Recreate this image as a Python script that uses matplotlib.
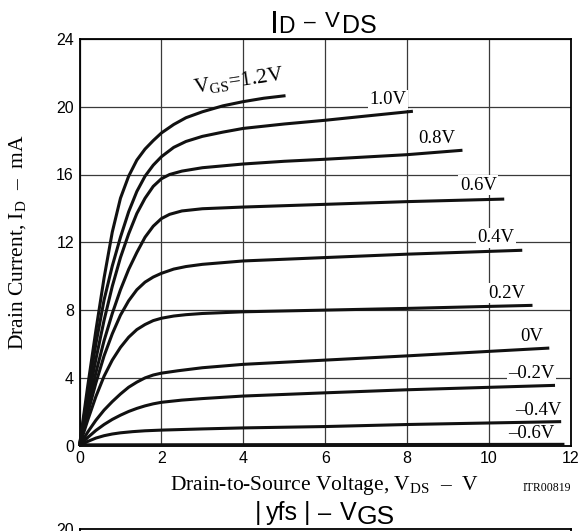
import matplotlib
matplotlib.use("Agg")
import matplotlib.pyplot as plt

plt.rcParams['font.family'] = ['Liberation Sans', 'DejaVu Sans']
plt.rcParams['mathtext.fontset'] = 'custom'
plt.rcParams['mathtext.rm'] = 'Liberation Serif'
plt.rcParams['mathtext.it'] = 'Liberation Serif:italic'
plt.rcParams['mathtext.sf'] = 'Liberation Sans'

# ID - VDS curves, one pair of lists per gate voltage
vds_p12 = [0, 0.2, 0.4, 0.6, 0.8, 1.0, 1.2, 1.4, 1.6, 1.8, 2.0, 2.3, 2.6, 3.0, 3.5, 4.0, 4.5, 5.03]
id_p12 = [0, 3.5, 6.8, 9.9, 12.6, 14.6, 15.9, 16.85, 17.5, 18.0, 18.45, 18.95, 19.35, 19.7, 20.05, 20.3, 20.5, 20.65]

vds_p10 = [0, 0.2, 0.4, 0.6, 0.8, 1.0, 1.2, 1.4, 1.6, 1.8, 2.0, 2.3, 2.6, 3.0, 3.5, 4.0, 5.0, 6.0, 7.0, 8.14]
id_p10 = [0, 3.1, 6.0, 8.6, 10.6, 12.3, 13.8, 15.0, 15.9, 16.55, 17.05, 17.6, 17.95, 18.25, 18.5, 18.72, 18.98, 19.2, 19.45, 19.73]

vds_p08 = [0, 0.2, 0.4, 0.6, 0.8, 1.0, 1.2, 1.4, 1.6, 1.8, 2.0, 2.2, 2.5, 3.0, 4.0, 5.0, 6.0, 8.0, 9.35]
id_p08 = [0, 2.6, 5.1, 7.4, 9.4, 11.1, 12.5, 13.7, 14.6, 15.3, 15.75, 16.0, 16.2, 16.4, 16.62, 16.78, 16.9, 17.17, 17.43]

vds_p06 = [0, 0.2, 0.4, 0.6, 0.8, 1.0, 1.2, 1.4, 1.6, 1.8, 2.0, 2.2, 2.5, 3.0, 4.0, 5.0, 6.0, 8.0, 10.37]
id_p06 = [0, 2.2, 4.3, 6.2, 7.8, 9.2, 10.4, 11.4, 12.3, 12.95, 13.4, 13.65, 13.85, 13.98, 14.08, 14.16, 14.24, 14.4, 14.55]

vds_p04 = [0, 0.2, 0.4, 0.6, 0.8, 1.0, 1.2, 1.4, 1.6, 1.8, 2.0, 2.3, 2.6, 3.0, 4.0, 5.0, 6.0, 8.0, 10.81]
id_p04 = [0, 1.9, 3.7, 5.3, 6.6, 7.7, 8.55, 9.2, 9.65, 9.95, 10.17, 10.42, 10.57, 10.7, 10.9, 11.0, 11.1, 11.3, 11.53]

vds_p02 = [0, 0.2, 0.4, 0.6, 0.8, 1.0, 1.2, 1.4, 1.6, 1.8, 2.0, 2.3, 2.6, 3.0, 4.0, 6.0, 8.0, 11.06]
id_p02 = [0, 1.5, 2.9, 4.1, 5.05, 5.8, 6.4, 6.85, 7.15, 7.38, 7.52, 7.65, 7.73, 7.8, 7.9, 8.0, 8.1, 8.28]

vds_00 = [0, 0.2, 0.4, 0.6, 0.8, 1.0, 1.2, 1.4, 1.6, 1.8, 2.0, 2.4, 3.0, 4.0, 6.0, 8.0, 11.47]
id_00 = [0, 0.8, 1.5, 2.1, 2.6, 3.05, 3.45, 3.75, 4.0, 4.17, 4.28, 4.42, 4.6, 4.8, 5.05, 5.3, 5.76]

vds_m02 = [0, 0.2, 0.4, 0.6, 0.8, 1.0, 1.2, 1.4, 1.6, 1.8, 2.0, 2.5, 3.0, 4.0, 6.0, 8.0, 11.61]
id_m02 = [0, 0.48, 0.9, 1.25, 1.55, 1.8, 2.02, 2.2, 2.35, 2.47, 2.56, 2.69, 2.78, 2.93, 3.12, 3.3, 3.56]

vds_m04 = [0, 0.2, 0.4, 0.6, 0.8, 1.0, 1.3, 1.6, 2.0, 3.0, 4.0, 6.0, 8.0, 11.76]
id_m04 = [0, 0.25, 0.45, 0.59, 0.69, 0.76, 0.83, 0.88, 0.92, 0.99, 1.05, 1.13, 1.25, 1.42]

vds_m06 = [0, 11.84]
id_m06 = [0.05, 0.08]

curve_labels = ["1.0V", "0.8V", "0.6V", "0.4V", "0.2V", "0V",
                "\u20130.2V", "\u20130.4V", "\u20130.6V"]

x_ticks = [0, 2, 4, 6, 8, 10, 12]
y_ticks = [0, 4, 8, 12, 16, 20, 24]

W, H = 583, 531
fig = plt.figure(figsize=(W / 100, H / 100), dpi=100)


def ptext(px, py, s, size, **kw):
    # place text by pixel position (top-left origin)
    kw.setdefault('va', 'baseline')
    kw.setdefault('ha', 'left')
    fig.text(px / W, 1 - py / H, s, fontsize=size, **kw)


ax = fig.add_axes([79.5 / W, 1 - 445.7 / H, 491.5 / W, 406.8 / H])
ax.set_xlim(0, 12)
ax.set_ylim(0, 24)
ax.set_xticks(x_ticks)
ax.set_yticks(y_ticks)
ax.tick_params(length=0, labelsize=11.5, pad=4)
ax.grid(True, color='#3a3a3a', lw=0.9)
ax.set_axisbelow(True)
for sp in ax.spines.values():
    sp.set_linewidth(1.3)

curves = [(vds_p12, id_p12), (vds_p10, id_p10), (vds_p08, id_p08),
          (vds_p06, id_p06), (vds_p04, id_p04), (vds_p02, id_p02),
          (vds_00, id_00), (vds_m02, id_m02), (vds_m04, id_m04),
          (vds_m06, id_m06)]
for vx, iy in curves:
    ax.plot(vx, iy, color='#111111', lw=2.2, solid_joinstyle='round',
            solid_capstyle='butt', zorder=3, clip_on=False)

# curve labels
label_pos = [(7.53, 20.4), (8.72, 18.13), (9.74, 15.38), (10.17, 12.27),
             (10.43, 8.99), (11.04, 6.47), (11.04, 4.27), (11.2, 2.1),
             (11.02, 0.73)]
for lab, (lx, ly) in zip(curve_labels, label_pos):
    ax.text(lx, ly, lab, family='Liberation Serif', fontsize=13.5,
            ha='center', va='center', zorder=2,
            bbox=dict(boxstyle='square,pad=0.08', fc='white', ec='none'))

ax.text(3.92, 21.19, r'$\mathregular{V_{GS}}$=1.2V', family='Liberation Serif',
        fontsize=15.5, rotation=8.6, rotation_mode='anchor',
        ha='center', va='baseline', zorder=2)

# title "ID - VDS"
ptext(270, 33, "I", 23)
ptext(278, 33, "D", 16.5)
ptext(304, 28, "\u2013", 15)
ptext(325, 27, "V", 16)
ptext(342, 33, "DS", 18)

# axis labels
ptext(324.5, 490, 'Drain-to-Source Voltage, $\\mathregular{V_{DS}}$  \u2013  V',
      15.5, family='Liberation Serif', ha='center')
ptext(571, 491, "ITR00819", 8.5, family='Liberation Serif', ha='right')
fig.text(23 / W, 1 - 242.5 / H, 'Drain Current, $\\mathregular{I_D}$  \u2013  mA',
         fontsize=15.5, family='Liberation Serif', rotation=90,
         rotation_mode='anchor', ha='center', va='baseline')

# next chart on the page, only its top edge shows
ax2 = fig.add_axes([79.5 / W, -0.5, 491.5 / W, 0.5 + 1 - 529 / H])
ax2.set_xlim(0, 12)
ax2.set_ylim(0, 20)
ax2.set_xticks(x_ticks)
ax2.set_xticklabels([])
ax2.set_yticks([20])
ax2.tick_params(length=0, labelsize=11.5, pad=4)
for sp in ax2.spines.values():
    sp.set_linewidth(1.3)

ptext(255, 520, "|", 18)
ptext(266, 520, "yfs", 18)
ptext(304, 520, "|", 18)
ptext(318, 520, "\u2013", 17)
ptext(340, 520, "V", 18)
ptext(357, 524, "GS", 19)

fig.savefig("out.png", dpi=100)
